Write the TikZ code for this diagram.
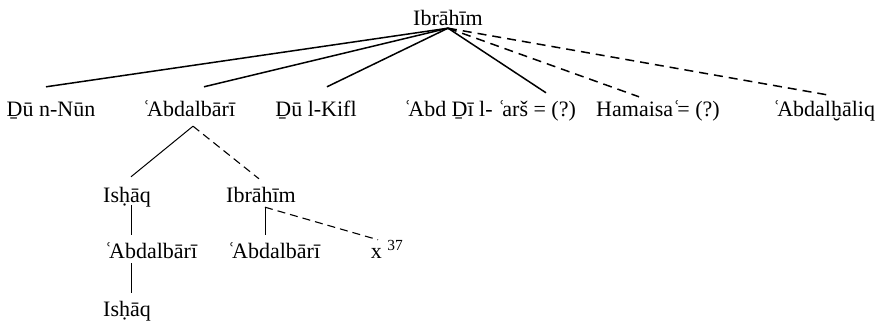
\documentclass[tikz,border=0pt]{standalone}
\usepackage{fontspec}
\setmainfont{Liberation Serif}
\usepackage{tikz}
\usetikzlibrary{positioning, calc}
\newcommand{\ain}{ʿ\kern-0.14em}

\begin{document}
\begin{tikzpicture}[x=1pt, y=-1pt,
    person/.style={inner sep=0pt, anchor=base, text height=15pt, text depth=5pt,
                   font=\fontsize{22}{26}\selectfont},
    link/.style={line width=1.5pt},
    maybe/.style={line width=1.5pt, dash pattern=on 9pt off 6pt},
    sublink/.style={line width=1pt},
    submaybe/.style={line width=1.1pt, dash pattern=on 8pt off 5pt}]
    \useasboundingbox (0,0) rectangle (881,321);
    % generation 0
    \node[person] (root) at (448,26) {Ibrāhīm};
    % generation 1
    \node[person] (dnun) at (51,117) {Ḏū n-Nūn};
    \node[person] (abd) at (189,117) {\ain Abdalbārī};
    \node[person] (dkifl) at (316,117) {Ḏū l-Kifl};
    \node[person] (abdarsh) at (490,117) {\ain Abd Ḏī l- \ain arš = (?)};
    \node[person] (hamaisa) at (658,117) {Hamaisa\ain = (?)};
    \node[person] (abdhaliq) at (824,117) {\ain Abdalḫāliq};
    % generation 2
    \node[person] (ishaq) at (127,202) {Isḥāq};
    \node[person] (ibr) at (261,202) {Ibrāhīm};
    % generation 3
    \node[person] (abdl) at (151,258) {\ain Abdalbārī};
    \node[person] (abdr) at (274,258) {\ain Abdalbārī};
    \node[person] (xnode) at (387,258) {x\ \textsuperscript{37}};
    % generation 4
    \node[person] (ishaqb) at (127,316) {Isḥāq};

    \draw[link] ([yshift=3pt]root.south) -- ([xshift=-5pt,yshift=15pt]dnun.north);
    \draw[link] ([yshift=3pt]root.south) -- ([xshift=15pt,yshift=15pt]abd.north);
    \draw[link] ([yshift=3pt]root.south) -- ([xshift=11pt,yshift=15pt]dkifl.north);
    \draw[link] ([yshift=3pt]root.south) -- ([xshift=56pt,yshift=9pt]abdarsh.north);
    \draw[maybe] ([yshift=3pt]root.south) -- ([xshift=-19pt,yshift=5pt]hamaisa.north);
    \draw[maybe] ([yshift=3pt]root.south) -- ([xshift=3pt,yshift=7pt]abdhaliq.north);

    \draw[sublink] ([xshift=4pt,yshift=-4pt]abd.south) -- ([xshift=4pt,yshift=10pt]ishaq.north);
    \draw[submaybe] ([xshift=4pt,yshift=-4pt]abd.south) -- ([xshift=-2pt,yshift=8pt]ibr.north);

    \draw[sublink] ([xshift=4pt,yshift=2pt]ishaq.south) -- ([xshift=-20pt,yshift=8pt]abdl.north);
    \draw[sublink] ([xshift=4pt]ibr.south) -- ([xshift=-9pt,yshift=8pt]abdr.north);
    \draw[submaybe] ([xshift=4pt]ibr.south) -- ([xshift=-9pt,yshift=3pt]xnode.north);
    \draw[sublink] ([xshift=-20pt]abdl.south) -- ([xshift=4pt,yshift=8pt]ishaqb.north);
\end{tikzpicture}
\end{document}
